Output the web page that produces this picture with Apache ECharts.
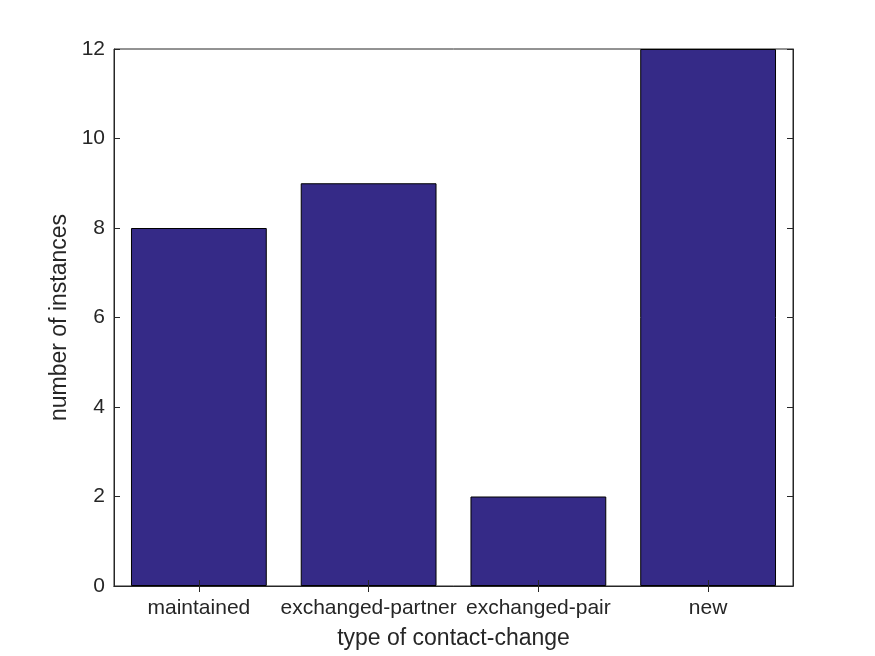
<!DOCTYPE html>
<html><head><meta charset="utf-8">
<script src="https://cdn.jsdelivr.net/npm/echarts@6/dist/echarts.min.js"></script>
<style>html,body{margin:0;padding:0;background:#fff}#c{width:875px;height:656px}</style>
</head><body><div id="c"></div>
<script>
const categories = ['maintained', 'exchanged-partner', 'exchanged-pair', 'new'];
const counts = [8, 9, 2, 12];
const yTicks = [0, 2, 4, 6, 8, 10, 12];

const font = 'Liberation Sans, Arial, Helvetica, sans-serif';
const axColor = '#262626';
const chart = echarts.init(document.getElementById('c'));
const tick = () => ({show: true, inside: true, length: 6, lineStyle: {color: axColor, width: 1}});
chart.setOption({
  animation: false,
  grid: {left: 114, right: 82, top: 49, bottom: 70, show: true, borderColor: axColor, borderWidth: 1, backgroundColor: '#fff'},
  xAxis: [{
    type: 'category', data: categories, position: 'bottom', z: 10,
    name: 'type of contact-change', nameLocation: 'middle', nameGap: 41,
    nameTextStyle: {fontFamily: font, fontSize: 23, color: axColor},
    axisLine: {show: true, lineStyle: {color: axColor}},
    axisTick: Object.assign({alignWithLabel: true, interval: 0}, tick()),
    axisLabel: {fontFamily: font, fontSize: 21, color: axColor, margin: 12, interval: 0}
  }, {
    type: 'category', data: categories, position: 'top', z: 10,
    axisLine: {show: true, lineStyle: {color: axColor}},
    axisTick: Object.assign({alignWithLabel: true, interval: 0}, tick()),
    axisLabel: {show: false}
  }],
  yAxis: [{
    type: 'value', min: yTicks[0], max: yTicks[yTicks.length - 1], interval: 2, z: 10,
    name: 'number of instances', nameLocation: 'middle', nameGap: 40,
    nameTextStyle: {fontFamily: font, fontSize: 23, color: axColor},
    axisLine: {show: true, lineStyle: {color: axColor}},
    axisTick: tick(),
    splitLine: {show: false},
    axisLabel: {fontFamily: font, fontSize: 21, color: axColor, margin: 9}
  }, {
    type: 'value', min: yTicks[0], max: yTicks[yTicks.length - 1], interval: 2, position: 'right', z: 10,
    axisLine: {show: true, lineStyle: {color: axColor}},
    axisTick: tick(),
    splitLine: {show: false},
    axisLabel: {show: false}
  }],
  series: [{
    type: 'bar', data: counts, barCategoryGap: '20%',
    itemStyle: {color: '#352a87', borderColor: '#000', borderWidth: 1},
    z: 1
  }]
});
</script></body></html>
